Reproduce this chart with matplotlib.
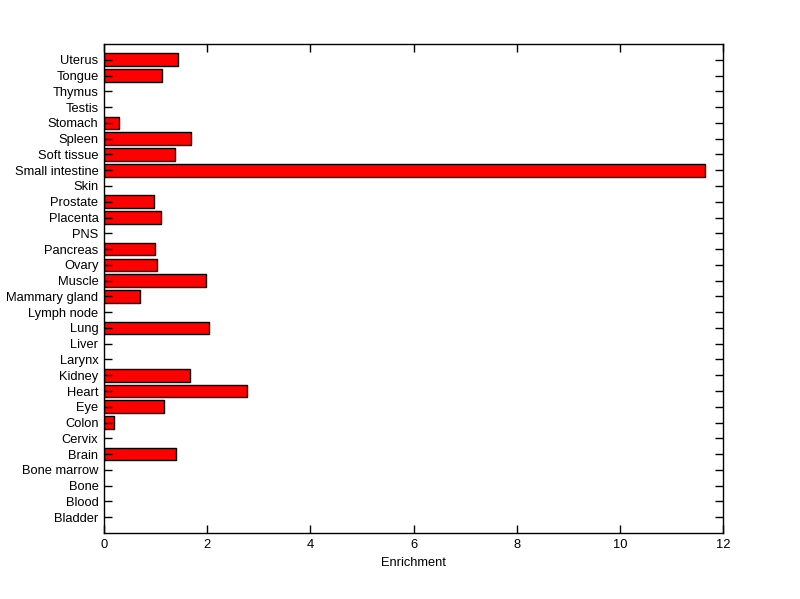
import numpy as np
import matplotlib
matplotlib.use('Agg')
import matplotlib.pyplot as plt

# Tissue categories, bottom to top
tissues = ['Bladder', 'Blood', 'Bone', 'Bone marrow', 'Brain', 'Cervix', 'Colon',
           'Eye', 'Heart', 'Kidney', 'Larynx', 'Liver', 'Lung', 'Lymph node',
           'Mammary gland', 'Muscle', 'Ovary', 'Pancreas', 'PNS', 'Placenta',
           'Prostate', 'Skin', 'Small intestine', 'Soft tissue', 'Spleen',
           'Stomach', 'Testis', 'Thymus', 'Tongue', 'Uterus']
enrichment = [0, 0, 0, 0, 1.40, 0, 0.19,
              1.17, 2.78, 1.66, 0, 0, 2.04, 0,
              0.70, 1.97, 1.03, 0.99, 0, 1.11,
              0.975, 0, 11.65, 1.38, 1.69,
              0.30, 0, 0, 1.13, 1.44]
x_ticks = [0, 2, 4, 6, 8, 10, 12]

plt.rcParams['font.family'] = ['Liberation Sans', 'DejaVu Sans']

fig = plt.figure(figsize=(8, 5.99), dpi=100)
ax = fig.add_axes([0.13, 0.1102, 0.774, 0.8163])

pos = np.arange(1, len(tissues) + 1)
# Draw only non-zero bars so zero entries show just the tick marks
mask = np.array(enrichment) > 0
ax.barh(pos[mask], np.array(enrichment)[mask], height=0.8, color='#ff0000',
        edgecolor='black', linewidth=1.0)

ax.set_xlim(0, 12)
ax.set_ylim(0, len(tissues) + 1)
ax.set_xticks(x_ticks)
ax.set_yticks(pos)
ax.set_yticklabels(tissues)
ax.tick_params(direction='in', length=5.5, width=1, top=True, right=True,
               labelsize=9.3, colors='black', pad=4)
for s in ax.spines.values():
    s.set_linewidth(1)
ax.set_xlabel('Enrichment', fontsize=9.3, labelpad=5)

fig.savefig('out.png', dpi=100)
